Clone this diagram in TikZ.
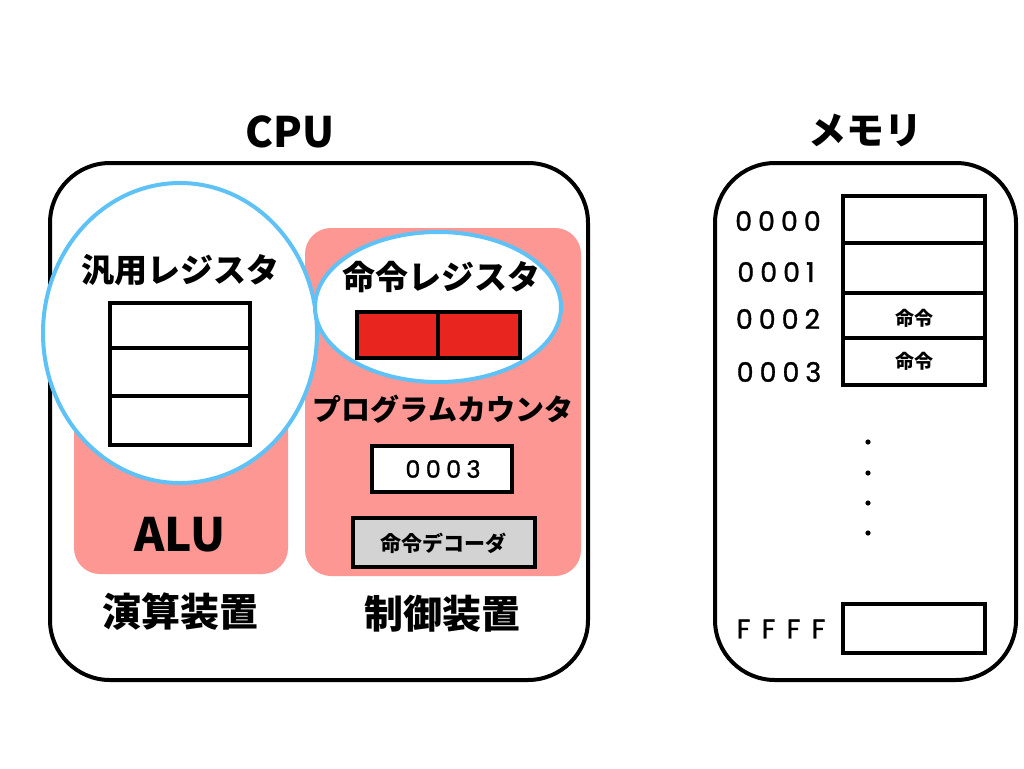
\documentclass[tikz,border=0pt]{standalone}
\usepackage{fontspec}
\setmainfont{Noto Sans CJK JP}
\newfontfamily\digits{Poppins}[LetterSpace=22,FakeBold=1.2]
\newfontfamily\wdigits{Poppins}[LetterSpace=42,FakeBold=1.2]
\begin{document}
\begin{tikzpicture}[x=1pt,y=-1pt,
  outer/.style={draw=black,line width=4pt,rounded corners=60pt},
  pinkbox/.style={fill=pinkc,rounded corners=26pt},
  bluering/.style={draw=bluec,line width=4pt,fill=white},
  cell/.style={draw=black,line width=4pt,fill=white},
  lbl/.style={font=\bfseries\fontsize{#1}{#1}\selectfont,inner sep=0pt}
]
\definecolor{pinkc}{HTML}{FC9793}
\definecolor{bluec}{HTML}{5EC2F7}
\definecolor{redc}{HTML}{E8251F}
\definecolor{grayc}{HTML}{D3D3D3}
\useasboundingbox[fill=white] (0,0) rectangle (1024,768);

% CPU
\node[lbl=42] (cputitle) at (290,132) {CPU};
\draw[outer] (50,163) rectangle (588,680);
\path[pinkbox] (74,228) rectangle (288,574);
\path[pinkbox] (305,228) rectangle (581,576);

% general register circle
\draw[bluering] (180,333) ellipse [x radius=137, y radius=150];
\node[lbl=33] (genreg) at (180,270) {汎用レジスタ};
\draw[cell] (110,303) rectangle (250,445);
\draw[line width=4pt] (110,348) -- (250,348) (110,396) -- (250,396);

% instruction register
\draw[bluering] (438,307) ellipse [x radius=123, y radius=75];
\node[lbl=33] (instreg) at (441,277) {命令レジスタ};
\draw[cell,fill=redc] (357,312) rectangle (520,358);
\draw[line width=4pt] (438,312) -- (438,358);

\node[lbl=29] (pc) at (443,409) {プログラムカウンタ};
\draw[cell] (372,446) rectangle (512,492);
\node[inner sep=0pt,font=\digits\fontsize{24}{24}\selectfont] (pcval) at (443,469) {0003};
\draw[cell,fill=grayc] (353,518) rectangle (535,567);
\node[lbl=21] (dec) at (443,543) {命令デコーダ};

\node[font=\bfseries\fontsize{46}{46}\selectfont,inner sep=0pt] (alu) at (180,535) {ALU};
\node[lbl=39] (calc) at (180,612) {演算装置};
\node[lbl=39] (ctrl) at (442,614) {制御装置};

% Memory
\node[lbl=38] (memtitle) at (865,130) {メモリ};
\draw[outer] (715,163) rectangle (1016,680);
\draw[cell] (843,196) rectangle (985,385);
\draw[line width=4pt] (843,243) -- (985,243) (843,293) -- (985,293) (843,338) -- (985,338);
\node[lbl=19] (m2) at (914,318) {命令};
\node[lbl=19] (m3) at (914,361) {命令};
\draw[cell] (843,604) rectangle (985,653);
\begin{scope}[every node/.style={inner sep=0pt,font=\digits\fontsize{27}{27}\selectfont}]
\node (a0) at (778,221) {0000};
\node (a1) at (776,272) {0001};
\node (a2) at (778,319) {0002};
\node (a3) at (779,372) {0003};
\node[font=\wdigits\fontsize{27}{27}\selectfont] (af) at (781,629) {FFFF};
\end{scope}
\foreach \y in {442,473,503,533} \fill (868,\y) circle (2.6);
\end{tikzpicture}
\end{document}
